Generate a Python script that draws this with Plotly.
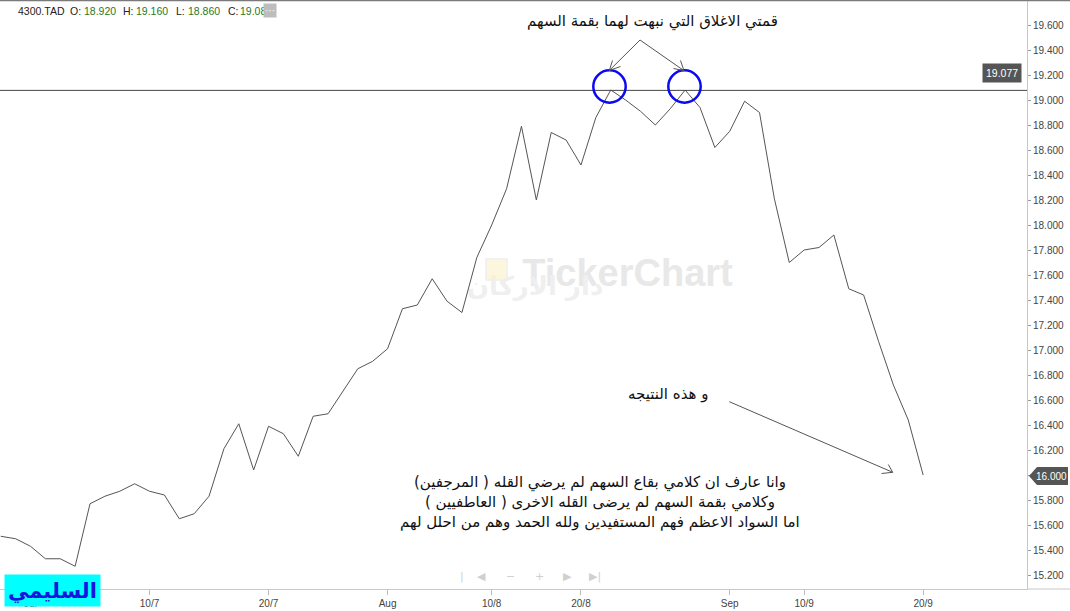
import plotly.graph_objects as go

# ---- data ----
closes = [15.51, 15.49, 15.43, 15.33, 15.33, 15.27, 15.77, 15.83, 15.87, 15.93,
          15.87, 15.84, 15.65, 15.69, 15.83, 16.21, 16.41, 16.04, 16.39, 16.33,
          16.15, 16.47, 16.49, 16.67, 16.85, 16.91, 17.01, 17.33, 17.36, 17.57,
          17.39, 17.30, 17.74, 18.00, 18.29, 18.79, 18.20, 18.74, 18.68, 18.48,
          18.86, 19.08, 19.00, 18.91, 18.80, 18.93, 19.08, 18.94, 18.62, 18.75,
          18.99, 18.90, 18.21, 17.70, 17.80, 17.82, 17.92, 17.49, 17.44, 17.07,
          16.72, 16.44, 16.00]
sessions = list(range(len(closes)))
tick_sessions = [2, 10, 18, 26, 33, 39, 49, 54, 62]
tick_labels = ["Jul", "10/7", "20/7", "Aug", "10/8", "20/8", "Sep", "10/9", "20/9"]
level_price = 19.077
last_price = 16.000
header_labels = ["4300.TAD", "O:", "18.920", "H:", "19.160", "L:", "18.860", "C:", "19.080"]

W, H = 1070, 611
ML, MR, MT, MB = 0, 43, 1, 22
PW, PH = W - ML - MR, H - MT - MB


def px(x):
    return (x - ML) / PW


def py(y):
    return (H - MB - y) / PH


fig = go.Figure()
fig.add_trace(go.Scatter(x=sessions, y=closes, mode="lines",
                         line=dict(color="#555555", width=1), hoverinfo="skip"))

shapes = []
annotations = []


def note(x, y, text, size=11, color="#111111", family="DejaVu Sans", xanchor="center", **kw):
    d = dict(xref="paper", yref="paper", x=px(x), y=py(y), text=text, showarrow=False,
             xanchor=xanchor, yanchor="middle",
             font=dict(size=size, color=color, family=family))
    d.update(kw)
    annotations.append(d)


# watermark (below the line)
shapes.append(dict(type="rect", xref="paper", yref="paper", layer="below",
                   x0=px(515), x1=px(740), y0=py(284), y1=py(254),
                   line=dict(width=0), fillcolor="rgba(0,0,0,0)",
                   label=dict(text="<b>TickerChart</b>", font=dict(size=38, color="#e8e8e8",
                              family="Liberation Sans"), textposition="middle center")))
shapes.append(dict(type="rect", xref="paper", yref="paper", layer="below",
                   x0=px(460), x1=px(610), y0=py(298), y1=py(270),
                   line=dict(width=0), fillcolor="rgba(0,0,0,0)",
                   label=dict(text="<b>دار الاركان</b>", font=dict(size=26, color="#efefef",
                              family="DejaVu Sans"), textposition="middle center")))
shapes.append(dict(type="rect", xref="paper", yref="paper", layer="below",
                   x0=px(486), x1=px(507), y0=py(280), y1=py(259),
                   line=dict(width=1.5, color="#eeeeee"), fillcolor="rgba(250,240,200,0.6)"))

# level line at 19.077
shapes.append(dict(type="line", xref="paper", yref="y", x0=0, x1=1,
                   y0=level_price, y1=level_price, line=dict(color="#444444", width=1)))

# frame lines
shapes.append(dict(type="line", xref="paper", yref="paper", x0=0, x1=px(W),
                   y0=py(0.5), y1=py(0.5), line=dict(color="#7a7a7a", width=1.5)))
shapes.append(dict(type="line", xref="paper", yref="paper", x0=1, x1=px(W),
                   y0=0, y1=0, line=dict(color="#c8c8c8", width=1)))

# blue circles
for cx, cy in [(609.5, 86.5), (684.5, 86.5)]:
    r = 16.2
    shapes.append(dict(type="circle", xref="paper", yref="paper",
                       x0=px(cx - r), x1=px(cx + r), y0=py(cy + r), y1=py(cy - r),
                       line=dict(color="#0a0af0", width=2.5)))


def seg(x0, y0, x1, y1, color="#555555", w=1):
    shapes.append(dict(type="line", xref="paper", yref="paper",
                       x0=px(x0), y0=py(y0), x1=px(x1), y1=py(y1),
                       line=dict(color=color, width=w)))


# arrows from the title
seg(640, 40, 609.3, 70.5)
seg(609.3, 70.5, 612.5, 60.5)
seg(609.3, 70.5, 620.5, 66.5)
seg(640, 40, 684, 70.7)
seg(684, 70.7, 680.5, 60.5)
seg(684, 70.7, 673.5, 68.5)
# result arrow
seg(729.3, 401.7, 892.7, 472.3)
seg(892.7, 472.3, 881.5, 473.5)
seg(892.7, 472.3, 888.3, 464.5)

# 16.000 last price tag
pts = [(1029, 476), (1037, 467), (1068, 467), (1068, 485), (1037, 485)]
path = "M " + " L ".join(f"{px(a):.5f},{py(b):.5f}" for a, b in pts) + " Z"
shapes.append(dict(type="path", xref="paper", yref="paper", path=path,
                   fillcolor="#555555", line=dict(width=0)))
note(1051, 476, f"{last_price:.3f}", size=10, color="white", family="Liberation Sans")

# 19.077 tag
note(1002, 73, f"{level_price:.3f}", size=10.5, color="white", family="Liberation Sans",
     bgcolor="#555555", borderpad=3)

# header
header_x = [16, 68, 82, 121, 134, 174, 186, 226, 238]
for i, (lbl, x) in enumerate(zip(header_labels, header_x)):
    col = "#1f7a1f" if (i > 0 and i % 2 == 0) else "#222222"
    note(x, 11, lbl, size=10.5, color=col, family="Liberation Sans", xanchor="left")
note(270, 10.5, "···", size=10, color="white", family="Liberation Sans",
     bgcolor="#bdbdbd", borderpad=1)

# Arabic texts
note(652, 22, "قمتي الاغلاق التي نبهت لهما بقمة السهم", size=15)
note(668, 394, "و هذه النتيجه", size=15)
arabic_lines = ["وانا عارف ان كلامي بقاع السهم لم يرضي القله ( المرجفين)",
                "وكلامي بقمة السهم لم يرضى القله الاخرى ( العاطفيين )",
                "اما السواد الاعظم فهم المستفيدين ولله الحمد وهم من احلل لهم"]
for yy, line in zip([482, 502, 522], arabic_lines):
    note(600, yy, line, size=15)

# navigation icons
for x, t in [(462, "|"), (481, "◀"), (510, "−"), (539, "+"), (567, "▶"), (595, "▶|")]:
    note(x, 576, t, size=11, color="#d0d0d0")

# name badge
note(52.5, 590.5, "<b>السليمي</b>", size=21, color="#1515e0",
     bgcolor="#00ffff", borderpad=2, width=91, height=27)

fig.update_layout(
    width=W, height=H,
    margin=dict(l=ML, r=MR, t=MT, b=MB),
    paper_bgcolor="white", plot_bgcolor="white",
    showlegend=False,
    shapes=shapes, annotations=annotations,
    xaxis=dict(range=[-0.05, 68.98], showgrid=False, zeroline=False,
               tickmode="array", tickvals=tick_sessions, ticktext=tick_labels,
               ticks="outside", ticklen=5, tickcolor="#bbbbbb",
               showline=True, linecolor="#c8c8c8", linewidth=1,
               tickfont=dict(size=10, color="#444444", family="Liberation Sans")),
    yaxis=dict(side="right", range=[15.088, 19.792], showgrid=False, zeroline=False,
               dtick=0.2, tick0=15.2, tickformat=".3f",
               ticks="outside", ticklen=3, tickcolor="#999999",
               showline=True, linecolor="#c8c8c8", linewidth=1,
               tickfont=dict(size=10, color="#444444", family="Liberation Sans")),
)

fig.write_html("out.html", config={"displayModeBar": False},
               post_script="document.body.style.margin='0';document.body.style.overflow='hidden';")
